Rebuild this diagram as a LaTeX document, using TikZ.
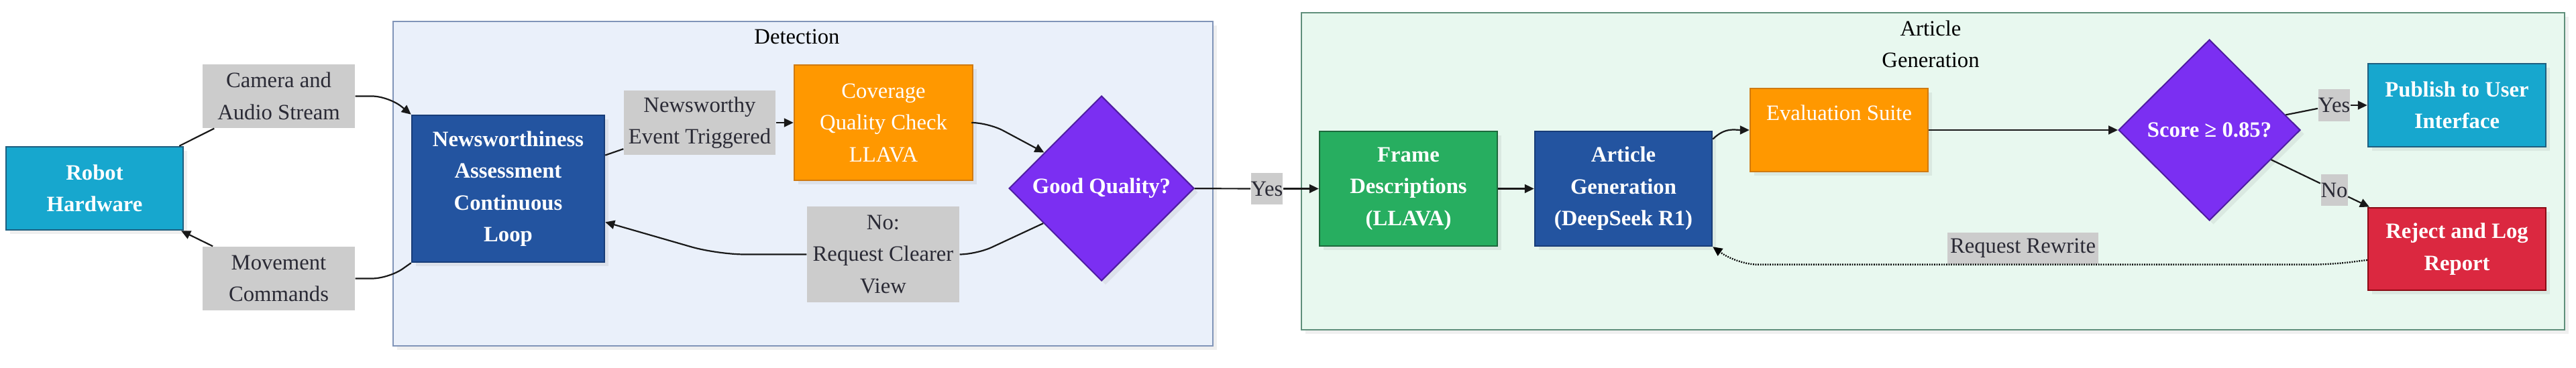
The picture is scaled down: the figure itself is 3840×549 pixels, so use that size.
\documentclass[tikz,border=0pt]{standalone}
\usepackage{fontspec}
\setmainfont{Liberation Serif}
\usetikzlibrary{shapes.geometric,arrows.meta,calc,shadows}
\newcommand\nodefnt{\fontsize{9.3}{13.5}\selectfont}
\definecolor{cyanF}{HTML}{17A7CE}
\definecolor{cyanD}{HTML}{1E5F80}
\definecolor{blueF}{HTML}{2354A0}
\definecolor{blueD}{HTML}{183D78}
\definecolor{orangeF}{HTML}{FF9800}
\definecolor{orangeD}{HTML}{D07A10}
\definecolor{purpF}{HTML}{7B2FF2}
\definecolor{purpD}{HTML}{4E1CA0}
\definecolor{greenF}{HTML}{27AE60}
\definecolor{greenD}{HTML}{1D6A3C}
\definecolor{redF}{HTML}{DB2840}
\definecolor{redD}{HTML}{8B0A14}
\definecolor{lblgray}{HTML}{CCCCCC}
\definecolor{txtgray}{HTML}{2A2A35}
\definecolor{detF}{HTML}{EAF0FA}
\definecolor{detD}{HTML}{8094B8}
\definecolor{genF}{HTML}{E8F8EF}
\definecolor{genD}{HTML}{5F8F7B}
\tikzset{
  shad/.style={drop shadow={shadow xshift=0.6mm, shadow yshift=-0.6mm, opacity=0.10, fill=black!60}},
  box/.style={rectangle, draw, line width=0.25mm, font=\nodefnt\bfseries, text=white, align=center, inner sep=0pt, shad},
  plainbox/.style={box, font=\nodefnt},
  lbl/.style={rectangle, fill=lblgray, font=\nodefnt, text=txtgray, align=center, inner sep=0pt},
  dia/.style={diamond, draw=purpD, fill=purpF, line width=0.2mm, font=\nodefnt\bfseries, text=white, align=center, inner sep=0pt, shad},
  ttl/.style={font=\nodefnt, text=black, align=center, inner sep=0pt},
  clusterD/.style={fill=detF, draw=detD, line width=0.2mm, shad},
  clusterG/.style={fill=genF, draw=genD, line width=0.2mm, shad},
  ln/.style={line width=0.22mm, black!90},
  arr/.style={ln, -{Triangle[length=1.4mm,width=1.3mm]}},
  dotarr/.style={arr, black, dash pattern=on 0.18mm off 0.18mm, line width=0.24mm}
}
\begin{document}
\begin{tikzpicture}[x=0.1mm,y=-0.1mm]
\useasboundingbox[fill=white] (0,0) rectangle (3840,549);
% clusters
\draw[clusterD] (586,32) rectangle (1808,516);
\node[ttl] (detT) at (1188,55) {Detection};
\draw[clusterG] (1940,19) rectangle (3823,492);
\node[ttl] (genT) at (2878,66) {Article\\Generation};
% nodes
\node[box, fill=cyanF, draw=cyanD, minimum width=26.4mm, minimum height=12.4mm] (robot) at (141,281) {Robot\\Hardware};
\node[lbl, minimum width=22.7mm, minimum height=9.5mm] (cam) at (415.5,143.5) {Camera and\\Audio Stream};
\node[lbl, minimum width=22.7mm, minimum height=9.5mm] (mov) at (415.5,415.5) {Movement\\Commands};
\node[box, fill=blueF, draw=blueD, minimum width=28.7mm, minimum height=21.9mm] (news) at (757.5,281.5) {Newsworthiness\\Assessment\\Continuous\\Loop};
\node[lbl, minimum width=22.6mm, minimum height=9.6mm] (nwl) at (1043,183) {Newsworthy\\Event Triggered};
\node[plainbox, fill=orangeF, draw=orangeD, minimum width=26.6mm, minimum height=17.2mm] (cov) at (1317,183) {Coverage\\Quality Check\\LLAVA};
\node[dia, minimum width=27.6mm, minimum height=27.6mm] (gq) at (1642,281) {Good Quality?};
\node[lbl, minimum width=22.7mm, minimum height=14.3mm] (nol) at (1316.5,379.5) {No:\\Request Clearer\\View};
\node[lbl, minimum width=4.5mm, minimum height=4.7mm] (yes1) at (1888.5,281.5) {Yes};
\node[box, fill=greenF, draw=greenD, minimum width=26.5mm, minimum height=17.1mm] (frame) at (2099.5,281.5) {Frame\\Descriptions\\(LLAVA)};
\node[box, fill=blueF, draw=blueD, minimum width=26.4mm, minimum height=17.1mm] (art) at (2420,281.5) {Article\\Generation\\(DeepSeek R1)};
\node[plainbox, fill=orangeF, draw=orangeD, minimum width=26.5mm, minimum height=12.4mm] (eval) at (2741.5,194) {\strut Evaluation Suite\\\strut};
\node[dia, minimum width=27.1mm, minimum height=27.0mm] (score) at (3293.5,194) {Score ≥ 0.85?};
\node[box, fill=cyanF, draw=cyanD, minimum width=26.5mm, minimum height=12.4mm] (pub) at (3662.5,157) {Publish to User\\Interface};
\node[box, fill=redF, draw=redD, minimum width=26.5mm, minimum height=12.3mm] (rej) at (3662.5,371.5) {Reject and Log\\Report};
\node[lbl, minimum width=4.5mm, minimum height=4.8mm] (yes2) at (3479.5,157) {Yes};
\node[lbl, minimum width=3.7mm, minimum height=4.7mm] (no2) at (3479.5,283.5) {No};
\node[lbl, minimum width=22.5mm, minimum height=4.7mm] (rr) at (3015.5,370.5) {Request Rewrite};
% edges
\draw[ln] (robot) -- (cam);
\draw[arr, rounded corners=2.5mm] (cam.east) -- ++(50,0) -- (news.north west);
\draw[ln, rounded corners=2.5mm] (news.south west) -- ($(mov.east)+(50,0)$) -- (mov.east);
\draw[arr] (mov) -- (robot);
\draw[ln] (news) -- (nwl);
\draw[arr] (nwl) -- (cov);
\draw[arr, rounded corners=2.5mm] (cov.east) -- ++(22,0) -- (gq.148);
\draw[ln, rounded corners=2.5mm] (gq.211) -- ($(nol.east)+(25,0)$) -- (nol.east);
\draw[arr, rounded corners=4mm] (nol.west) -- ($(nol.west)+(-133,0)$) -- (news.-19.5);
\draw[ln] (gq) -- (yes1);
\draw[arr] (yes1) -- (frame);
\draw[arr] (frame) -- (art);
\draw[arr] (art.29) .. controls +(18,-18) and +(-22,0) .. (eval.west);
\draw[arr] (eval) -- (score);
\draw[ln] (score) -- (yes2);
\draw[arr] (yes2) -- (pub);
\draw[ln] (score) -- (no2);
\draw[arr] (no2) -- (rej);
\draw[dotarr, rounded corners=3mm] (rej.187) -- ($(rej.west |- rr.south)+(-53,0)$) -- ($(art.south east |- rr.south)+(37,0)$) -- (art.south east);
\end{tikzpicture}
\end{document}
